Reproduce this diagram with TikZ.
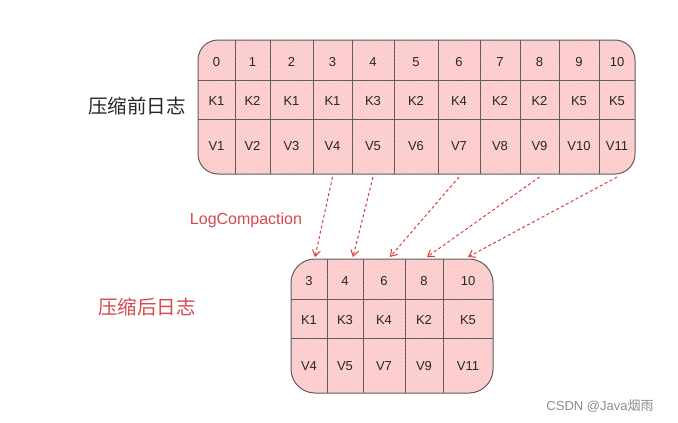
\documentclass[tikz,border=0pt]{standalone}
\usepackage{fontspec}
\setmainfont{Liberation Sans}
\newfontfamily\cjk{Noto Sans CJK SC}
\usetikzlibrary{arrows.meta,patterns.meta}
\definecolor{boxfill}{HTML}{FFD4D4}
\definecolor{hatch}{HTML}{F6B3B3}
\definecolor{edge}{HTML}{5E5E5E}
\definecolor{redline}{HTML}{DC3A3A}
\definecolor{redtext}{HTML}{D9474A}
\tikzset{
  logbox/.style={draw=edge, line width=1pt, preaction={fill=boxfill},
    pattern={Lines[angle=50,distance=2.6pt,line width=0.3pt]}, pattern color=hatch},
  gridline/.style={draw=edge, line width=0.9pt},
  cell/.style={inner sep=0pt, font=\fontsize{13}{15}\selectfont, text=black!85},
  arr/.style={draw=redline, line width=1pt, dashed, dash pattern=on 3pt off 2.5pt,
    -{Straight Barb[length=6pt,width=8pt,line width=1pt]}},
  lbl/.style={inner sep=0pt, font=\cjk\fontsize{19.5}{22}\selectfont}
}
\begin{document}
\begin{tikzpicture}[x=1pt,y=-1pt]
\useasboundingbox (0,0) rectangle (678,423);
% top box
\draw[logbox, rounded corners=20pt] (198,40) rectangle (635,174);
\foreach \xx in {235,270,313,352,394,438,480,520,559,599}
  \draw[gridline] (\xx,40) -- (\xx,174);
\draw[gridline] (198,80) -- (635,80);
\draw[gridline] (198,119) -- (635,119);
\foreach \l/\r/\n/\k/\v [count=\i from 0] in {198/235/0/K1/V1, 235/270/1/K2/V2, 270/313/2/K1/V3, 313/352/3/K1/V4, 352/394/4/K3/V5, 394/438/5/K2/V6, 438/480/6/K4/V7, 480/520/7/K2/V8, 520/559/8/K2/V9, 559/599/9/K5/V10, 599/635/10/K5/V11}{
  \node[cell] (ti\i) at ({(\l+\r)/2},62) {\n};
  \node[cell] (tk\i) at ({(\l+\r)/2},101) {\k};
  \node[cell] (tv\i) at ({(\l+\r)/2},146) {\v};
  \coordinate (ts\i) at ({(\l+\r)/2},177);
}
% bottom box
\draw[logbox, rounded corners=24pt] (291,259) rectangle (493,393);
\foreach \xx in {327,363,405,443}
  \draw[gridline] (\xx,259) -- (\xx,393);
\draw[gridline] (291,299) -- (493,299);
\draw[gridline] (291,338) -- (493,338);
\foreach \l/\r/\n/\k/\v/\e [count=\i from 0] in {291/327/3/K1/V4/315, 327/363/4/K3/V5/353, 363/405/6/K4/V7/390, 405/443/8/K2/V9/427, 443/493/10/K5/V11/468}{
  \node[cell] (bi\i) at ({(\l+\r)/2},281) {\n};
  \node[cell] (bk\i) at ({(\l+\r)/2},320) {\k};
  \node[cell] (bv\i) at ({(\l+\r)/2},366) {\v};
  \coordinate (be\i) at (\e,257);
}
% arrows
\draw[arr] (ts3) -- (be0);
\draw[arr] (ts4) -- (be1);
\draw[arr] (ts6) -- (be2);
\draw[arr] (ts8) -- (be3);
\draw[arr] (ts10) -- (be4);
% labels
\node[lbl, text=black!85] (before) at (137,106) {压缩前日志};
\node[lbl, text=redtext] (after) at (147,307) {压缩后日志};
\node[inner sep=0pt, text=redtext, font=\fontsize{16}{18}\selectfont] (lc) at (246,220) {LogCompaction};
\node[inner sep=0pt, text=black!45, font=\fontsize{13}{15}\selectfont] (wm) at (600,406) {CSDN @Java{\cjk 烟雨}};
\end{tikzpicture}
\end{document}
